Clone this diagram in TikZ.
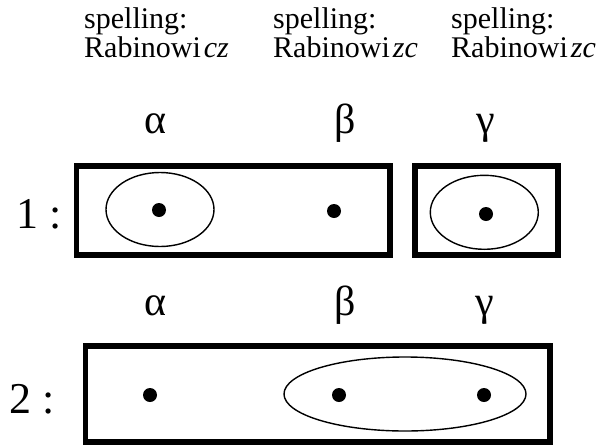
\documentclass[tikz,border=0pt]{standalone}
\usepackage{fontspec}
\setmainfont{Liberation Serif}
\usepackage{xcolor}

\tikzset{
  frame/.style={line width=5.5pt},
  blob/.style={line width=1.4pt},
  dot/.style={circle,fill=black,inner sep=0pt,minimum size=14pt},
  greek/.style={anchor=base,inner sep=0pt,font=\fontsize{42}{42}\selectfont},
  rowlbl/.style={anchor=base west,inner sep=0pt,font=\fontsize{44}{44}\selectfont},
  spell/.style={anchor=base west,inner sep=0pt,font=\fontsize{30}{30}\selectfont}
}

\begin{document}
\begin{tikzpicture}[x=1pt,y=-1pt]
  \useasboundingbox (0,0) rectangle (603,445);

  \node[spell] (sp1) at (84,28) {spelling:};
  \node[spell] (sp2) at (273,28) {spelling:};
  \node[spell] (sp3) at (451,28) {spelling:};
  \node[spell] (rb1) at (84,57) {Rabinowi\hspace{3pt}\textit{cz}};
  \node[spell] (rb2) at (273,57) {Rabinowi\hspace{3pt}\textit{zc}};
  \node[spell] (rb3) at (451,57) {Rabinowi\hspace{3pt}\textit{zc}};

  % row 1
  \node[greek] (al1) at (156,133) {α};
  \node[greek] (be1) at (345,133) {β};
  \node[greek] (ga1) at (486,133) {γ};
  \node[rowlbl] (one) at (16,228) {1 :};
  \draw[frame] (76.5,166) rectangle (390,255);
  \draw[frame] (415,166) rectangle (558,255);
  \node[dot] (da1) at (159,210) {};
  \node[dot] (db1) at (334,211) {};
  \node[dot] (dg1) at (486,214) {};
  \draw[blob] (160,209.5) ellipse [x radius=54pt,y radius=37pt];
  \draw[blob] (484.3,212.3) ellipse [x radius=54pt,y radius=37pt];

  % row 2
  \node[greek] (al2) at (156,315) {α};
  \node[greek] (be2) at (345,315) {β};
  \node[greek] (ga2) at (485,315) {γ};
  \node[rowlbl] (two) at (9,413) {2 :};
  \draw[frame] (85.5,346) rectangle (550,442);
  \node[dot] (da2) at (150,395) {};
  \node[dot] (db2) at (339,395) {};
  \node[dot] (dg2) at (484,395) {};
  \draw[blob] (405,394) ellipse [x radius=121pt,y radius=37pt];
\end{tikzpicture}
\end{document}
